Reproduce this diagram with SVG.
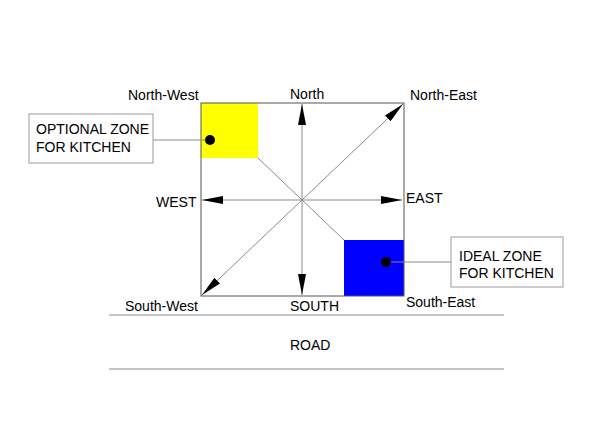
<svg xmlns="http://www.w3.org/2000/svg" width="600" height="425" viewBox="0 0 600 425">
<style>
text{font-family:"Liberation Sans",Arial,sans-serif;font-size:14px;fill:#000}
.g{stroke:#8a8a8a;stroke-width:1;fill:none}
.b{stroke:#9a9a9a;stroke-width:1;fill:#fff}
.ah{fill:#000;stroke:none}
</style>
<defs>
<marker id="arr" viewBox="0 0 21 8" refX="21" refY="4" markerWidth="21" markerHeight="8" markerUnits="userSpaceOnUse" orient="auto"><path d="M0,0 L21,4 L0,8 Z" class="ah"/></marker>
</defs>
<rect width="600" height="425" fill="#fff"/>
<g id="zone-yellow"><rect x="201" y="103" width="57" height="55" fill="#ffff00"/></g>
<g id="zone-blue"><rect x="344" y="240" width="60" height="56" fill="#0000ff"/></g>
<g id="plot"><rect x="201" y="103" width="203" height="193" fill="none" stroke="#555" stroke-width="1"/></g>
<g id="connectors">
<line class="g" x1="258" y1="158" x2="344" y2="240"/>
<line class="g" x1="302" y1="200" x2="302" y2="104" marker-end="url(#arr)"/>
<line class="g" x1="302" y1="200" x2="302" y2="295" marker-end="url(#arr)"/>
<line class="g" x1="302" y1="200" x2="202" y2="200" marker-end="url(#arr)"/>
<line class="g" x1="302" y1="200" x2="402" y2="200" marker-end="url(#arr)"/>
<line class="g" x1="302" y1="200" x2="403" y2="104" marker-end="url(#arr)"/>
<line class="g" x1="302" y1="200" x2="202" y2="295" marker-end="url(#arr)"/>
<line class="g" x1="153" y1="140" x2="210" y2="140"/>
<line class="g" x1="386" y1="262" x2="451" y2="262"/>
<line class="g" x1="109" y1="315" x2="504" y2="315"/>
<line class="g" x1="109" y1="369" x2="504" y2="369"/>
</g>
<g id="dot-yellow"><circle cx="210" cy="140" r="5" fill="#000"/></g>
<g id="dot-blue"><circle cx="386" cy="262" r="5" fill="#000"/></g>
<g id="box-optional"><rect class="b" x="29" y="114" width="124" height="49"/>
<text x="36" y="134">OPTIONAL ZONE</text><text x="36" y="152">FOR KITCHEN</text></g>
<g id="box-ideal"><rect class="b" x="451" y="237" width="112" height="50"/>
<text x="459" y="261">IDEAL ZONE</text><text x="459" y="278">FOR KITCHEN</text></g>
<g id="labels">
<text x="128" y="100">North-West</text>
<text x="290" y="99">North</text>
<text x="410" y="100">North-East</text>
<text x="156" y="207">WEST</text>
<text x="406" y="203">EAST</text>
<text x="125" y="311">South-West</text>
<text x="290" y="311">SOUTH</text>
<text x="406" y="307">South-East</text>
<text x="290" y="350">ROAD</text>
</g>
</svg>
